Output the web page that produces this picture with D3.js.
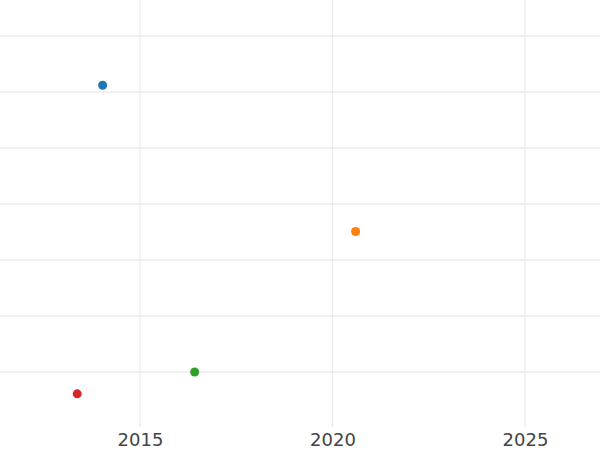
<!DOCTYPE html>
<html>
<head>
<meta charset="utf-8">
<script src="https://cdn.jsdelivr.net/npm/d3@7"></script>
<style>
  body { margin: 0; background: #fff; }
  svg { display: block; }
</style>
</head>
<body>
<svg id="chart" width="600" height="450"></svg>
<script>
// Data
const years = [2014.03, 2020.6, 2016.42, 2013.37];
const values = [5.12, 2.51, 0.0, -0.39];
const colors = ["#1f77b4", "#ff7f0e", "#2ca02c", "#d62728"];
const xTicks = [2015, 2020, 2025];
const yGrid = [-0, 1, 2, 3, 4, 5, 6];

const W = 600, H = 450;
const plotBottom = 427;

const x = d3.scaleLinear().domain([2011.364, 2026.948]).range([0, W]);
const y = d3.scaleLinear().domain([-0.982, 6.643]).range([plotBottom, 0]);

const svg = d3.select("#chart");

// horizontal grid
svg.append("g")
  .selectAll("line")
  .data(yGrid)
  .join("line")
  .attr("x1", 0).attr("x2", W)
  .attr("y1", d => y(d)).attr("y2", d => y(d))
  .attr("stroke", "#ebebeb")
  .attr("stroke-width", 1.3);

// vertical grid
svg.append("g")
  .selectAll("line")
  .data(xTicks)
  .join("line")
  .attr("x1", d => x(d)).attr("x2", d => x(d))
  .attr("y1", 0).attr("y2", plotBottom)
  .attr("stroke", "#ebebeb")
  .attr("stroke-width", 1.3);

// x axis labels
const xAxis = d3.axisBottom(x).tickValues(xTicks).tickFormat(d3.format("d")).tickSize(0).tickPadding(6);
const gx = svg.append("g").attr("transform", `translate(0,${plotBottom})`).call(xAxis);
gx.select(".domain").remove();
gx.selectAll("text")
  .attr("font-family", "DejaVu Sans, sans-serif")
  .attr("font-size", 18)
  .attr("fill", "#444444");

// points
svg.append("g")
  .selectAll("circle")
  .data(years.map((yr, i) => ({yr, v: values[i], c: colors[i]})))
  .join("circle")
  .attr("cx", d => x(d.yr))
  .attr("cy", d => y(d.v))
  .attr("r", 4.5)
  .attr("fill", d => d.c);
</script>
</body>
</html>
